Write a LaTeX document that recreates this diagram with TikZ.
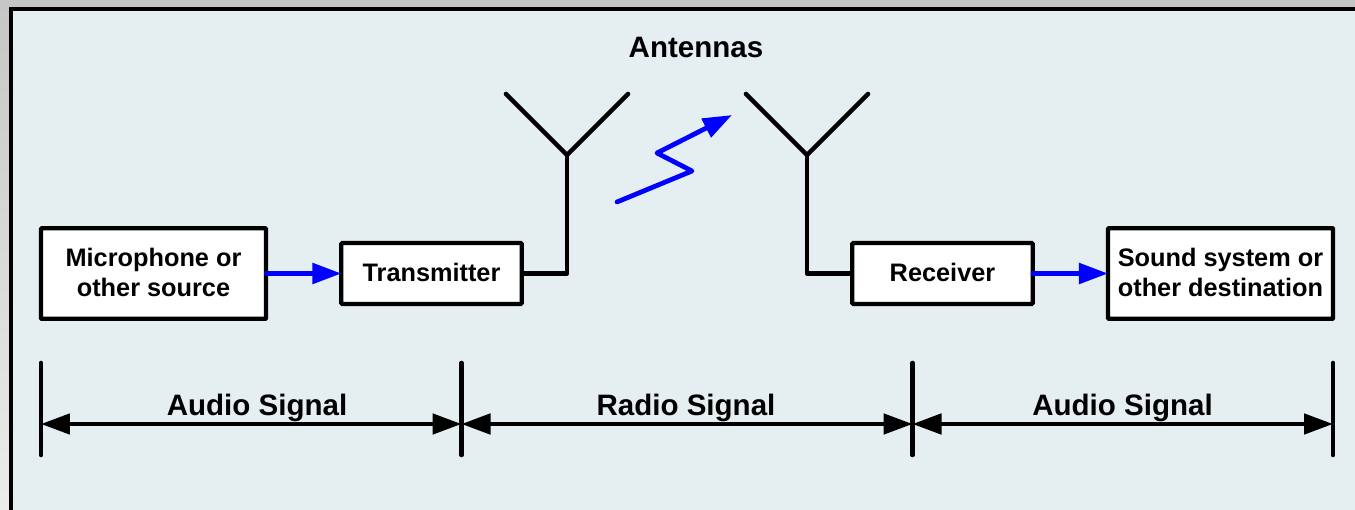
\documentclass[tikz,border=0pt]{standalone}
\usepackage{fontspec}
\setmainfont{Liberation Sans}
\usetikzlibrary{arrows.meta}
\tikzset{
	block/.style={draw=black,fill=white,line width=2.4pt,rounded corners=0.5pt,inner sep=0pt,align=center,text depth=1.2pt,font=\fontsize{14.4}{17}\selectfont\bfseries},
	wire/.style={draw=black,line width=2.6pt,line cap=round,line join=round},
	bluewire/.style={draw=blue,line width=2.7pt,line cap=round,line join=round},
	bluearrow/.style={bluewire,-{Triangle[length=16.5pt,width=11.5pt,fill=blue]}},
	span/.style={draw=black,line width=2.4pt,{Triangle[length=16.5pt,width=11.5pt]}-{Triangle[length=16.5pt,width=11.5pt]}},
	lbl/.style={font=\fontsize{16.8}{20}\selectfont\bfseries,inner sep=0pt}
}
\begin{document}
\begin{tikzpicture}[x=0.2mm,y=-0.2mm]
	\useasboundingbox (0,0) rectangle (1355,510);
	\fill [top color=gray!45,bottom color=gray!15] (0,0) rectangle (10,510);
	\fill [gray!45] (0,0) rectangle (1355,10);
	\fill [fill=black] (8.5,7) rectangle (1355,510);
	\fill [fill={rgb,255:red,229;green,238;blue,241}] (13,11) rectangle (1355,510);

	\node [block,minimum width=128.1pt,minimum height=51.6pt] (mic) at (153.5,273.5) {Microphone or\\other source};
	\node [block,minimum width=102.6pt,minimum height=34.6pt] (tx) at (431.5,273.5) {Transmitter};
	\node [block,minimum width=102.6pt,minimum height=34.6pt] (rx) at (942.5,273.5) {Receiver};
	\node [block,minimum width=128.1pt,minimum height=51.6pt] (snd) at (1220.5,273.5) {Sound system or\\other destination};

	\coordinate (ant1) at (567,155);
	\coordinate (ant2) at (807,155);
	\coordinate (ant1l) at (506,94);
	\coordinate (ant1r) at (628,94);
	\coordinate (ant2l) at (746,94);
	\coordinate (ant2r) at (868,94);

	\draw [wire] (tx.east) -| (ant1);
	\draw [wire] (rx.west) -| (ant2);
	\draw [wire] (ant1l) -- (ant1) -- (ant1r);
	\draw [wire] (ant2l) -- (ant2) -- (ant2r);

	\draw [bluearrow,shorten <=-1pt,shorten >=-1.2pt] (mic.east) -- (tx.west);
	\draw [bluearrow,shorten <=-1pt,shorten >=-1.2pt] (rx.east) -- (snd.west);

	\coordinate (z1) at (617,202);
	\coordinate (z2) at (692,171);
	\coordinate (z3) at (657,153);
	\coordinate (z4) at (732,115);
	\draw [bluearrow] (z1) -- (z2) -- (z3) -- (z4);

	\node [lbl] (ants) at (696,47) {Antennas};

	% signal spans
	\foreach \n/\x in {a/41,b/461.5,c/912.5,d/1333}{
		\coordinate (\n t) at (\x,363);
		\coordinate (\n b) at (\x,455);
		\coordinate (\n m) at (\x,424);
		\draw [wire] (\n t) -- (\n b);
	}
	\draw [span] (am) -- (bm);
	\draw [span] (bm) -- (cm);
	\draw [span] (cm) -- (dm);
	\node [lbl] (aud1) at (257,408) {Audio Signal};
	\node [lbl] (rad) at (686,408) {Radio Signal};
	\node [lbl] (aud2) at (1122.5,408) {Audio Signal};
\end{tikzpicture}
\end{document}
